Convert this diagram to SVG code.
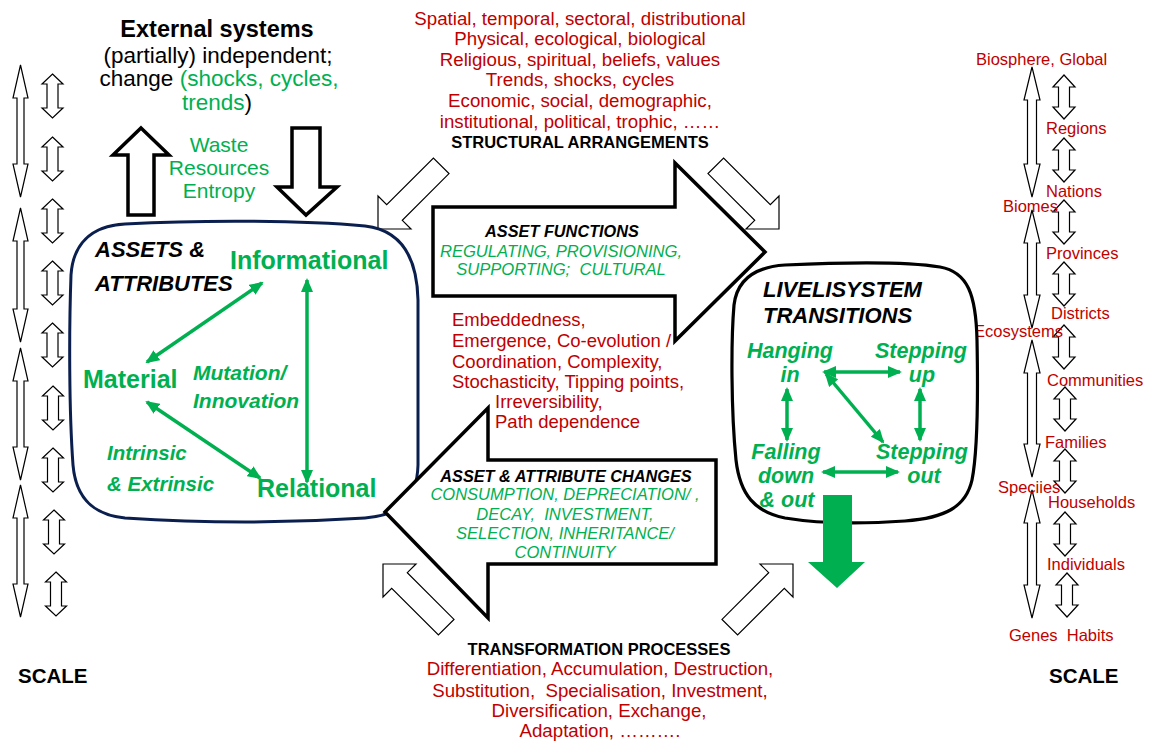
<svg xmlns="http://www.w3.org/2000/svg" xmlns:xlink="http://www.w3.org/1999/xlink" width="1152" height="742" viewBox="0 0 1152 742">
<style>
text{font-family:"Liberation Sans",Arial,sans-serif}
.red{fill:#C00000}
.grn{fill:#00B050}
.blk{fill:#000}
.b{font-weight:bold}
.i{font-style:italic}
.m{text-anchor:middle}
.pre{white-space:pre}
.thin{fill:#fff;stroke:#000;stroke-width:1.2;stroke-linejoin:miter}
.thick{fill:#fff;stroke:#000;stroke-width:3.5;stroke-linejoin:miter}
.ga{stroke:#00B050;stroke-width:3.5;fill:none;marker-start:url(#gh);marker-end:url(#gh)}
</style>
<defs>
<marker id="gh" markerUnits="userSpaceOnUse" markerWidth="14" markerHeight="12" viewBox="0 0 14 12" refX="12" refY="6" orient="auto-start-reverse">
<path d="M0,0 L14,6 L0,12 z" fill="#00B050"/>
</marker>
<path id="sl" d="M0,0 L10.5,10 L5.5,10 L5.5,34 L10.5,34 L0,44 L-10.5,34 L-5.5,34 L-5.5,10 L-10.5,10 Z"/>
<path id="sr" d="M0,0 L11,12 L5.5,12 L5.5,32 L11,32 L0,44 L-11,32 L-5.5,32 L-5.5,12 L-11,12 Z"/>
</defs>
<rect width="1152" height="742" fill="#fff"/>

<g id="scale-left">
<polygon class="thin" points="20.5,65 28,98 24,98 24,164 28,164 20.5,197 13,164 17,164 17,98 13,98"/>
<polygon class="thin" points="20.5,208 28,241 24,241 24,309 28,309 20.5,342 13,309 17,309 17,241 13,241"/>
<polygon class="thin" points="20.5,348 28,381 24,381 24,447 28,447 20.5,480 13,447 17,447 17,381 13,381"/>
<polygon class="thin" points="20.5,485 28,518 24,518 24,584 28,584 20.5,617 13,584 17,584 17,518 13,518"/>
<use class="thin" xlink:href="#sl" x="52.5" y="74"/>
<use class="thin" xlink:href="#sl" x="52.5" y="137"/>
<use class="thin" xlink:href="#sl" x="52.5" y="199"/>
<use class="thin" xlink:href="#sl" x="52.5" y="261"/>
<use class="thin" xlink:href="#sl" x="52.5" y="323"/>
<use class="thin" xlink:href="#sl" x="53" y="386"/>
<use class="thin" xlink:href="#sl" x="53" y="448"/>
<use class="thin" xlink:href="#sl" x="54" y="510"/>
<use class="thin" xlink:href="#sl" x="56" y="572"/>
<text class="b blk" x="18" y="683" font-size="20.5">SCALE</text>
</g>

<g id="scale-right">
<polygon class="thin" points="1032,67 1040,100 1036.5,100 1036.5,164 1040,164 1032,197 1024,164 1027.5,164 1027.5,100 1024,100"/>
<polygon class="thin" points="1032,210 1040,243 1036.5,243 1036.5,295 1040,295 1032,328 1024,295 1027.5,295 1027.5,243 1024,243"/>
<polygon class="thin" points="1032,340 1040,373 1036.5,373 1036.5,444 1040,444 1032,477 1024,444 1027.5,444 1027.5,373 1024,373"/>
<polygon class="thin" points="1032,490 1040,523 1036.5,523 1036.5,585 1040,585 1032,618 1024,585 1027.5,585 1027.5,523 1024,523"/>
<use class="thin" xlink:href="#sr" x="1064" y="75"/>
<use class="thin" xlink:href="#sr" x="1064" y="138"/>
<use class="thin" xlink:href="#sr" x="1064" y="200"/>
<use class="thin" xlink:href="#sr" x="1064" y="262"/>
<use class="thin" xlink:href="#sr" x="1064" y="325"/>
<use class="thin" xlink:href="#sr" x="1065" y="387"/>
<use class="thin" xlink:href="#sr" x="1065" y="449"/>
<use class="thin" xlink:href="#sr" x="1065" y="512"/>
<use class="thin" xlink:href="#sr" x="1067" y="573"/>
<g font-size="16.5" class="red">
<text class="red" x="976" y="65">Biosphere, Global</text>
<text class="red" x="1046" y="134">Regions</text>
<text class="red" x="1046" y="197">Nations</text>
<text class="red" x="1003" y="212">Biomes</text>
<text class="red" x="1046" y="259">Provinces</text>
<text class="red" x="1051" y="319">Districts</text>
<text class="red" x="974" y="337">Ecosystems</text>
<text class="red" x="1047" y="386">Communities</text>
<text class="red" x="1045" y="448">Families</text>
<text class="red" x="998" y="493">Speciies</text>
<text class="red" x="1048" y="508">Households</text>
<text class="red" x="1047" y="570">Individuals</text>
<text class="red pre" x="1009" y="641">Genes  Habits</text>
</g>
<text class="b blk" x="1049" y="683" font-size="20.5">SCALE</text>
</g>

<g id="external-systems">
<text class="b blk m" x="217" y="37" font-size="23.5">External systems</text>
<text class="blk m" x="218" y="63" font-size="22.5">(partially) independent;</text>
<text class="blk m" x="219" y="86" font-size="22.5">change <tspan class="grn">(shocks, cycles,</tspan></text>
<text class="blk m" x="217" y="110" font-size="22.5"><tspan class="grn">trends</tspan>)</text>
</g>

<g id="flows">
<text class="grn m" x="219" y="152" font-size="21">Waste</text>
<text class="grn m" x="219" y="175" font-size="21">Resources</text>
<text class="grn m" x="219" y="198" font-size="21">Entropy</text>
</g>

<g id="structural-arrangements">
<g font-size="18.7">
<text class="red m" x="580" y="25">Spatial, temporal, sectoral, distributional</text>
<text class="red m" x="580" y="45">Physical, ecological, biological</text>
<text class="red m" x="580" y="66">Religious, spiritual, beliefs, values</text>
<text class="red m" x="580" y="86">Trends, shocks, cycles</text>
<text class="red m" x="580" y="107">Economic, social, demographic,</text>
<text class="red m" x="580" y="128">institutional, political, trophic, ……</text>
</g>
<text class="b blk m" x="580" y="148" font-size="16.5">STRUCTURAL ARRANGEMENTS</text>
</g>

<g id="connectors">
<polygon class="thick" points="141,128 169,155 154,155 154,215 128,215 128,155 113,155"/>
<polygon class="thick" points="292,128 320,128 320,187 337,187 306,215 277,187 292,187"/>
<polygon class="thin" points="378,229 378,196 386.7,204.7 433.4,158 449,173.6 402.3,220.3 411,229"/>
<polygon class="thin" points="779,229 779,196 770.3,204.7 723.6,158 708,173.6 754.7,220.3 746,229"/>
<polygon class="thin" points="383,564 383,597 391.7,588.3 438.4,635 454,619.4 407.3,572.7 416,564"/>
<polygon class="thin" points="793,564 793,597 784.3,588.3 737.6,635 722,619.4 768.7,572.7 760,564"/>
</g>

<g id="assets-attributes">
<path d="M125,224 C200,220 300,220 365,226 C400,230 417,255 418,300 L418,465 C417,500 400,515 365,518 C290,523 200,523 125,518 C95,515 76,500 73,465 C69,410 69,330 71,275 C73,245 90,226 125,224 Z" fill="#fff" stroke="#0B1F4F" stroke-width="3"/>
<text class="b i blk" x="95" y="257" font-size="22">ASSETS &amp;</text>
<text class="b i blk" x="95" y="291" font-size="22">ATTRIBUTES</text>
<text class="b grn" x="230" y="269" font-size="25">Informational</text>
<text class="b grn" x="83" y="388" font-size="25">Material</text>
<text class="b grn" x="257" y="497" font-size="25">Relational</text>
<text class="b i grn" x="193" y="380" font-size="21">Mutation/</text>
<text class="b i grn" x="193" y="408" font-size="21">Innovation</text>
<text class="b i grn" x="107" y="460" font-size="20.5">Intrinsic</text>
<text class="b i grn" x="107" y="491" font-size="20.5">&amp; Extrinsic</text>
<line class="ga" x1="147" y1="362" x2="262" y2="283"/>
<line class="ga" x1="147" y1="402" x2="260" y2="478"/>
<line class="ga" x1="307" y1="280" x2="307" y2="482"/>
</g>

<g id="asset-functions">
<polygon class="thick" points="433,207 675,207 675,163 765,252 675,341 675,296 433,296"/>
<text class="b i blk m" x="562" y="237" font-size="16.3">ASSET FUNCTIONS</text>
<text class="i grn m" x="561" y="257" font-size="16.6">REGULATING, PROVISIONING,</text>
<text class="i grn m pre" x="561" y="275" font-size="16.6">SUPPORTING;  CULTURAL</text>
</g>

<g id="emergent-properties" font-size="18.5">
<text class="red" x="452" y="326">Embeddedness,</text>
<text class="red" x="452" y="347">Emergence, Co-evolution /</text>
<text class="red" x="452" y="368">Coordination, Complexity,</text>
<text class="red" x="452" y="388">Stochasticity, Tipping points,</text>
<text class="red" x="495" y="408">Irreversibility,</text>
<text class="red" x="495" y="428">Path dependence</text>
</g>

<g id="asset-changes">
<polygon class="thick" points="716,460 488,460 488,408 385,512 488,618 488,564 716,564"/>
<text class="b i blk m" x="566" y="482" font-size="16.3">ASSET &amp; ATTRIBUTE CHANGES</text>
<text class="i grn m" x="565" y="500" font-size="16.5">CONSUMPTION, DEPRECIATION/ ,</text>
<text class="i grn m pre" x="565" y="520" font-size="16.5">DECAY,  INVESTMENT,</text>
<text class="i grn m" x="565" y="539" font-size="16.5">SELECTION, INHERITANCE/</text>
<text class="i grn m" x="565" y="558" font-size="16.5">CONTINUITY</text>
</g>

<g id="livelisystem-transitions">
<path d="M785,265 C850,262 910,262 940,267 C968,272 976,295 977,340 C978,390 978,450 972,480 C966,507 945,518 905,521 C860,524 815,523 785,518 C755,512 740,495 736,460 C731,410 731,340 734,305 C737,280 755,267 785,265 Z" fill="#fff" stroke="#000" stroke-width="3.2"/>
<text class="b i blk" x="763" y="297" font-size="22">LIVELISYSTEM</text>
<text class="b i blk" x="763" y="323" font-size="22">TRANSITIONS</text>
<g font-size="21.5" class="b i grn">
<text class="b i grn m" x="790" y="358">Hanging</text>
<text class="b i grn m" x="790" y="382">in</text>
<text class="b i grn m" x="921" y="358">Stepping</text>
<text class="b i grn m" x="922" y="382">up</text>
<text class="b i grn m" x="786" y="459">Falling</text>
<text class="b i grn m" x="786" y="483">down</text>
<text class="b i grn m" x="787" y="507">&amp; out</text>
<text class="b i grn m" x="922" y="459">Stepping</text>
<text class="b i grn m" x="924" y="483">out</text>
</g>
<line class="ga" x1="824" y1="372" x2="900" y2="372"/>
<line class="ga" x1="787" y1="389" x2="787" y2="440"/>
<line class="ga" x1="920" y1="389" x2="920" y2="440"/>
<line class="ga" x1="823" y1="472" x2="898" y2="472"/>
<line class="ga" x1="826" y1="374" x2="883" y2="442"/>
<polygon points="823,495 852,495 852,562 865,562 837,588 808,562 823,562" fill="#00B050"/>
</g>

<g id="transformation-processes">
<text class="b blk m" x="599" y="655" font-size="16.5">TRANSFORMATION PROCESSES</text>
<g font-size="18.7">
<text class="red m" x="600" y="675">Differentiation, Accumulation, Destruction,</text>
<text class="red m pre" x="600" y="697">Substitution,  Specialisation, Investment,</text>
<text class="red m" x="599" y="717">Diversification, Exchange,</text>
<text class="red m" x="600" y="737">Adaptation, ……….</text>
</g>
</g>
</svg>
